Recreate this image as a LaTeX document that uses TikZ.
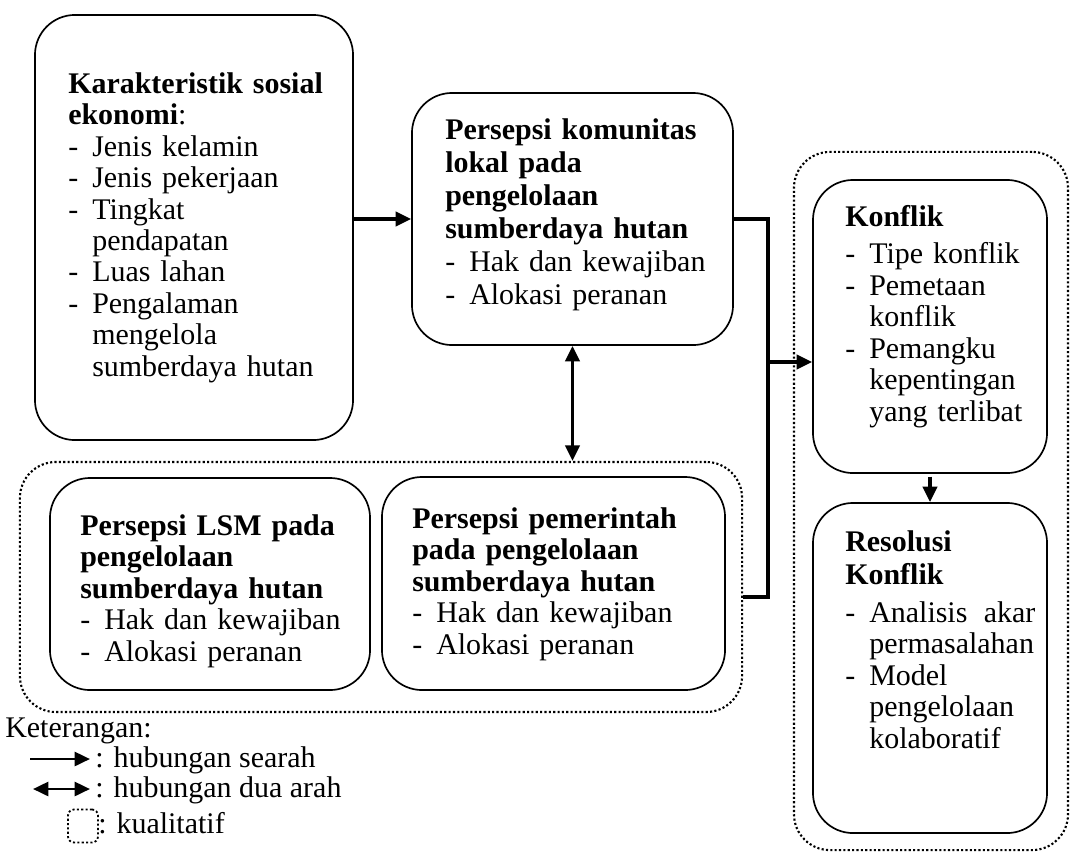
\documentclass[tikz,border=0pt]{standalone}
\usepackage{fontspec}
\setmainfont{Liberation Serif}
\usetikzlibrary{arrows.meta, positioning, calc}

\newcommand{\dsh}{\makebox[0.6cm][l]{-}}
\newcommand{\ind}{\hspace*{0.6cm}}

\begin{document}
\begin{tikzpicture}[x=0.025cm, y=-0.025cm,
  every node/.style={font=\fontsize{21.3}{22.4}\selectfont},
  box/.style={rectangle, draw, line width=1.2pt, rounded corners=1cm, inner sep=0pt},
  grpbox/.style={rectangle, draw, line width=1.5pt, dash pattern=on 1.5pt off 1.6pt, rounded corners=0.9cm, inner sep=0pt},
  txt/.style={anchor=base west, inner sep=0pt, align=left, text width=#1},
  conn/.style={line width=2.6pt},
  arr/.style={conn, -{Triangle[length=11pt, width=10pt]}},
  darr/.style={conn, {Triangle[length=11pt, width=10pt]}-{Triangle[length=11pt, width=10pt]}},
]
\useasboundingbox (0,0) rectangle (1077,857);

% kotak utama
\node[box, minimum width=7.95cm, minimum height=10.625cm] (kar) at (194,227.5) {};
\node[box, minimum width=8.025cm, minimum height=6.3cm] (kom) at (572.5,219) {};
\node[grpbox, minimum width=18.05cm, minimum height=6.25cm] (kual) at (381,587) {};
\node[box, minimum width=8cm, minimum height=5.3cm] (lsm) at (210,584) {};
\node[box, minimum width=8.575cm, minimum height=5.325cm] (pem) at (553.5,583.5) {};
\node[grpbox, minimum width=6.85cm, minimum height=17.45cm] (kualr) at (931,501) {};
\node[box, minimum width=5.85cm, minimum height=7.325cm] (kon) at (930,326.5) {};
\node[box, minimum width=5.85cm, minimum height=8.25cm] (res) at (930,668) {};

% isi kotak
\node[txt=7cm] (kart) at (68,93) {\textbf{Karakteristik sosial}\\
  \textbf{ekonomi}:\\
  \dsh Jenis kelamin\\
  \dsh Jenis pekerjaan\\
  \dsh Tingkat\\
  \ind pendapatan\\
  \dsh Luas lahan\\
  \dsh Pengalaman\\
  \ind mengelola\\
  \ind sumberdaya hutan};
\node[txt=7cm] (komt) at (445,139) {\textbf{Persepsi komunitas}\\[0.04cm]
  \textbf{lokal pada}\\[0.04cm]
  \textbf{pengelolaan}\\[0.04cm]
  \textbf{sumberdaya hutan}\\[0.04cm]
  \dsh Hak dan kewajiban\\[0.04cm]
  \dsh Alokasi peranan};
\node[txt=7cm] (lsmt) at (80,535) {\textbf{Persepsi LSM pada}\\
  \textbf{pengelolaan}\\
  \textbf{sumberdaya hutan}\\
  \dsh Hak dan kewajiban\\
  \dsh Alokasi peranan};
\node[txt=7.5cm] (pemt) at (412,528) {\textbf{Persepsi pemerintah}\\
  \textbf{pada pengelolaan}\\
  \textbf{sumberdaya hutan}\\
  \dsh Hak dan kewajiban\\
  \dsh Alokasi peranan};
\node[txt=5.5cm] (kont) at (845,226) {\textbf{Konflik}\\[0.15cm]
  \dsh Tipe konflik\\
  \dsh Pemetaan\\
  \ind konflik\\
  \dsh Pemangku\\
  \ind kepentingan\\
  \ind yang terlibat};
\node[txt=5.5cm] (rest) at (845,551) {\textbf{Resolusi}\\[0.05cm]
  \textbf{Konflik}\\[0.15cm]
  \dsh\makebox[4.15cm][s]{Analisis\hfill akar}\\
  \ind permasalahan\\
  \dsh Model\\
  \ind pengelolaan\\
  \ind kolaboratif};

% panah
\coordinate (bus) at (768,362);
\coordinate (kualout) at ($(kual.east)+(0,10)$);
\draw[arr] (kar.east |- kom.west) -- (kom.west);
\draw[conn] (kom.east) -| (bus);
\draw[conn] (kualout) -| (bus);
\draw[arr] (bus) -- (bus -| kon.west);
\draw[darr] (kom.south) -- (kom.south |- kual.north);
\draw[arr, shorten <=2pt] (kon.south) -- (res.north);

% keterangan
\node[anchor=base west, inner sep=0pt] (ket) at (5,737) {Keterangan:};
\coordinate (la1) at (30,759);
\coordinate (lb1) at (90,759);
\draw[arr, line width=2pt] (la1) -- (lb1);
\node[anchor=base west, inner sep=0pt] (lket1) at (95,767) {: hubungan searah};
\coordinate (la2) at (33,789);
\coordinate (lb2) at (90,789);
\draw[darr, line width=2pt] (la2) -- (lb2);
\node[anchor=base west, inner sep=0pt] (lket2) at (95,797) {: hubungan dua arah};
\node[grpbox, rounded corners=0.15cm, line width=1.3pt, minimum width=0.75cm, minimum height=0.825cm] (lkot) at (83,826) {};
\node[anchor=base west, inner sep=0pt] (lket3) at (98,833) {: kualitatif};
\end{tikzpicture}
\end{document}
